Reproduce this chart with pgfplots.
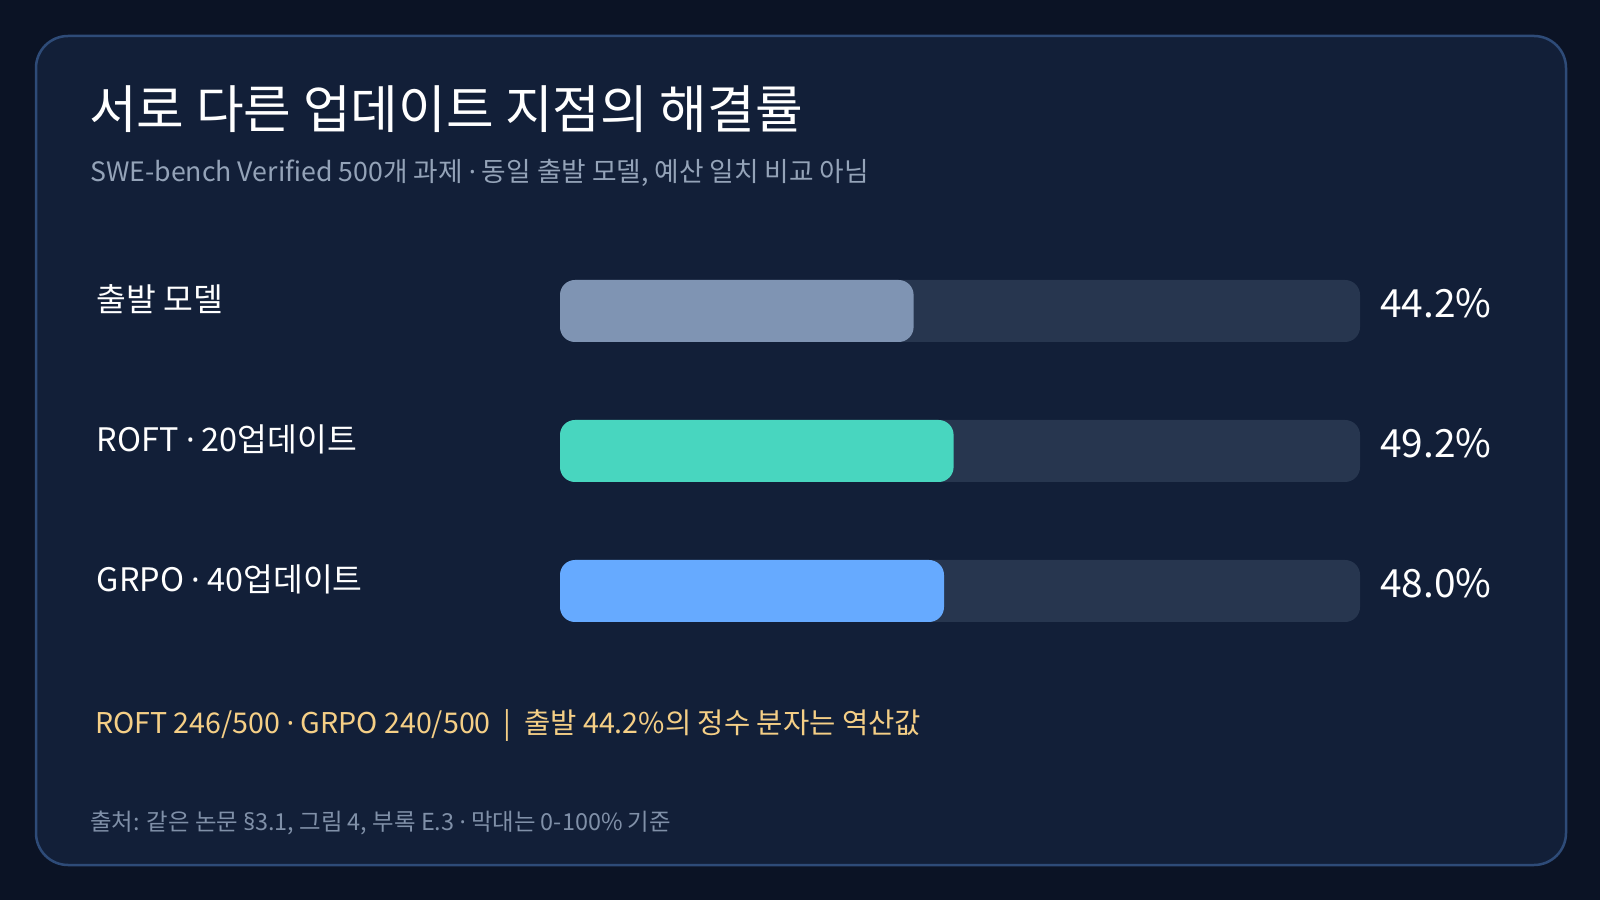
\documentclass[border=0pt]{standalone}
\usepackage{pgfplots}
\pgfplotsset{compat=1.18}
\usepackage{fontspec}
\setmainfont{Noto Sans CJK KR}
\newfontfamily\dotfont{Noto Sans}
\newcommand\mdot{{\dotfont ·}}
\definecolor{outerbg}{HTML}{0B1325}
\definecolor{cardbg}{HTML}{121F38}
\definecolor{cardborder}{HTML}{2E4B78}
\definecolor{track}{HTML}{27364F}
\definecolor{cbase}{HTML}{7F94B3}
\definecolor{croft}{HTML}{48D6BF}
\definecolor{cgrpo}{HTML}{66AAFF}
\definecolor{subt}{HTML}{94A3B8}
\definecolor{note}{HTML}{F5CF86}
\definecolor{src}{HTML}{8090A8}
\begin{document}
\begin{tikzpicture}[x=1bp,y=1bp]
\path[fill=outerbg] (0,0) rectangle (1600,900);
\path[use as bounding box] (0,0) rectangle (1600,900);
\draw[fill=cardbg, draw=cardborder, line width=2.5bp, rounded corners=32bp] (36,35) rectangle (1566,864);
\node[anchor=west, inner sep=0, text=white, font=\fontsize{52}{60}\selectfont] at (89,791) {서로 다른 업데이트 지점의 해결률};
\node[anchor=west, inner sep=0, text=subt, font=\fontsize{26.8}{32}\selectfont] at (90,727) {SWE-bench Verified 500개 과제 \mdot{} 동일 출발 모델, 예산 일치 비교 아님};
\begin{axis}[
  at={(560bp,239bp)}, anchor=south west,
  scale only axis, width=800bp, height=420bp,
  xmin=0, xmax=100, ymin=0.5, ymax=3.5, y dir=reverse,
  xbar, bar width=62bp, bar shift=0pt,
  axis line style={draw=none}, tick style={draw=none},
  xtick=\empty, ytick={1,2,3},
  yticklabels={출발 모델, ROFT \mdot{} 20업데이트, GRPO \mdot{} 40업데이트},
  yticklabel style={anchor=west, inner sep=0pt, xshift=-459bp, yshift=12bp, text=white, font=\fontsize{32.5}{38}\selectfont},
  clip=false,
]
\addplot[fill=track, draw=none, rounded corners=15bp] coordinates {(100,1) (100,2) (100,3)};
\addplot[fill=cbase, draw=none, rounded corners=15bp] coordinates {(44.2,1)};
\addplot[fill=croft, draw=none, rounded corners=15bp] coordinates {(49.2,2)};
\addplot[fill=cgrpo, draw=none, rounded corners=15bp] coordinates {(48.0,3)};
\node[anchor=west, inner sep=0, text=white, font=\fontsize{39}{45}\selectfont, xshift=20bp, yshift=8bp] at (axis cs:100,1) {44.2\%};
\node[anchor=west, inner sep=0, text=white, font=\fontsize{39}{45}\selectfont, xshift=20bp, yshift=8bp] at (axis cs:100,2) {49.2\%};
\node[anchor=west, inner sep=0, text=white, font=\fontsize{39}{45}\selectfont, xshift=20bp, yshift=8bp] at (axis cs:100,3) {48.0\%};
\end{axis}
\node[anchor=west, inner sep=0, text=note, font=\fontsize{28.7}{33}\selectfont] at (95,174) {ROFT 246/500 \mdot{} GRPO 240/500 \ |\ \ 출발 44.2\%의 정수 분자는 역산값};
\node[anchor=west, inner sep=0, text=src, font=\fontsize{23.5}{28}\selectfont] at (90,77) {출처: 같은 논문 {\dotfont §}3.1, 그림 4, 부록 E.3 \mdot{} 막대는 0-100\% 기준};
\end{tikzpicture}
\end{document}
